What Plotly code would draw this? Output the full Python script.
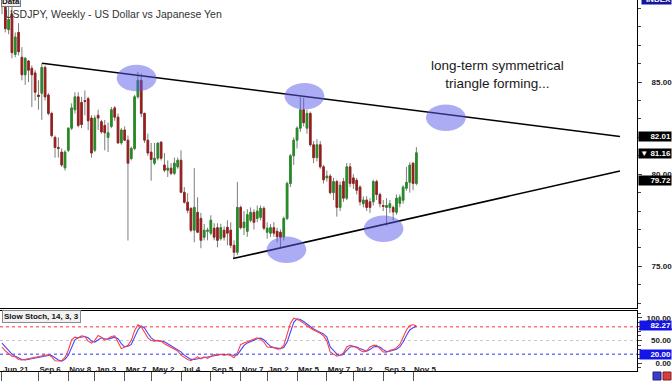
import plotly.graph_objects as go
import pandas as pd

# ---------------- data (weekly USDJPY) ----------------
start_week = "2010-06-21"
open_ = [90.2, 89.8, 87.85, 88.7, 86.5, 87.7, 86.35, 85.4, 86.15, 85.75,
         85.5, 84.3, 84.4, 85.8, 84.3, 83.3, 82.0, 81.45, 81.2, 80.35,
         81.3, 82.5, 83.5, 84.2, 83.9, 84.0, 84.1, 83.05, 81.3, 83.2,
         82.85, 82.65, 82.0, 82.6, 83.6, 83.1, 81.7, 82.4, 81.85, 80.85,
         81.4, 84.2, 85.1, 83.3, 81.85, 81.2, 80.6, 80.87, 81.74, 80.5,
         80.22, 80.33, 80.05, 80.4, 80.76, 79.02, 78.48, 78.15, 76.96, 77.93,
         77.6, 76.58, 76.9, 76.8, 77.07, 77.1, 76.5, 76.96, 77.12, 76.96,
         76.14, 75.76, 78.2, 77.1, 76.9, 77.5, 77.93, 77.6, 77.66, 78.15,
         76.85, 76.8, 77.1, 76.9, 76.85, 76.6, 77.6, 79.5, 81.0, 81.85,
         82.5, 83.5, 82.5, 83.3, 81.6, 80.9, 81.6, 80.4, 79.8, 79.9,
         79.0, 79.6, 78.2, 79.6, 78.7, 80.4, 79.8, 79.67, 79.3, 78.4,
         78.6, 78.5, 78.5, 79.6, 78.9, 78.3, 78.2, 78.2, 78.2, 77.93,
         78.42, 78.59, 79.24, 79.56, 80.6, 79.5]
high = [90.6, 90.0, 89.3, 89.5, 87.7, 88.2, 86.9, 86.35, 86.2, 85.9,
        85.65, 85.1, 86.03, 85.9, 84.4, 83.4, 82.1, 82.0, 81.4, 81.3,
        82.55, 83.85, 84.45, 84.45, 84.2, 84.55, 84.2, 83.2, 83.2, 83.5,
        82.95, 82.95, 82.8, 83.65, 83.7, 83.3, 82.5, 82.6, 82.1, 81.5,
        84.3, 85.56, 85.47, 83.35, 82.2, 81.7, 81.7, 81.75, 81.8, 81.15,
        80.75, 80.6, 80.9, 80.9, 81.3, 79.3, 78.97, 78.2, 80.33, 78.75,
        77.9, 77.3, 77.1, 77.77, 77.34, 77.34, 77.3, 77.17, 77.5, 77.39,
        76.41, 79.58, 78.3, 78.0, 78.1, 78.2, 78.1, 78.3, 78.3, 78.26,
        77.39, 77.3, 77.4, 77.1, 77.0, 77.7, 79.6, 81.1, 82.0, 82.6,
        84.2, 84.15, 83.5, 83.4, 81.8, 81.9, 81.8, 80.5, 80.2, 80.0,
        79.8, 79.7, 79.6, 79.8, 80.6, 80.6, 80.0, 79.8, 79.4, 78.8,
        78.8, 78.7, 79.7, 79.7, 79.0, 78.6, 78.7, 78.6, 78.3, 78.9,
        78.9, 79.4, 80.4, 80.65, 80.65, 81.47]
low = [88.7, 87.7, 87.6, 86.3, 86.35, 86.45, 85.1, 84.85, 85.0, 83.65,
       84.0, 83.5, 82.95, 84.0, 83.2, 82.0, 80.9, 80.9, 80.4, 80.2,
       81.2, 82.4, 83.3, 82.55, 82.5, 83.2, 82.4, 80.9, 81.2, 82.4,
       82.2, 81.3, 81.2, 82.5, 82.9, 81.65, 81.6, 81.8, 76.4, 80.75,
       81.3, 84.1, 83.1, 81.7, 81.0, 79.65, 80.5, 80.75, 80.75, 80.1,
       79.85, 79.95, 79.95, 80.3, 78.97, 78.4, 77.88, 76.85, 76.3, 76.8,
       75.98, 76.41, 76.41, 76.69, 76.41, 76.03, 76.4, 76.4, 76.14, 75.98,
       75.43, 75.6, 77.0, 76.7, 76.6, 77.39, 77.0, 77.4, 77.5, 76.96,
       76.5, 76.6, 76.6, 76.3, 75.98, 76.4, 77.5, 79.3, 80.5, 81.4,
       82.3, 82.6, 82.2, 81.5, 80.6, 80.7, 80.3, 79.5, 79.6, 78.9,
       78.6, 77.7, 78.0, 78.5, 78.6, 79.3, 79.2, 78.9, 78.3, 78.2,
       78.0, 77.9, 78.3, 78.6, 78.2, 78.0, 77.2, 77.9, 77.5, 77.8,
       78.2, 78.4, 79.1, 79.0, 79.13, 79.4]
close = [89.6, 87.9, 88.4, 86.6, 87.45, 86.65, 85.4, 86.3, 85.65, 85.4,
         84.45, 84.22, 85.8, 84.2, 83.3, 82.1, 81.45, 81.4, 80.5, 81.2,
         82.5, 83.6, 84.2, 82.65, 82.7, 83.95, 82.9, 81.15, 83.05, 83.05,
         82.3, 82.25, 82.25, 83.5, 83.1, 81.7, 82.4, 81.85, 80.6, 81.4,
         84.2, 85.1, 83.3, 81.85, 81.15, 80.8, 80.87, 81.68, 80.87, 80.22,
         80.33, 80.05, 80.6, 80.76, 79.02, 78.48, 78.04, 76.96, 78.2, 76.85,
         76.41, 76.96, 76.96, 77.5, 76.58, 76.41, 77.1, 76.58, 76.8, 76.14,
         75.76, 78.2, 77.1, 77.4, 77.8, 77.93, 77.39, 78.0, 78.15, 77.07,
         77.07, 77.1, 76.8, 76.6, 76.58, 77.6, 79.5, 81.0, 81.85, 82.5,
         83.5, 82.8, 83.3, 81.6, 80.9, 81.6, 80.4, 79.7, 79.9, 79.0,
         79.6, 78.2, 79.4, 78.7, 80.4, 79.5, 79.5, 79.13, 78.5, 78.6,
         78.2, 78.2, 79.6, 78.9, 78.4, 78.25, 78.3, 78.4, 77.95, 78.7,
         78.75, 79.3, 79.56, 80.49, 79.5, 81.16]

stoch_main = [35.8, 27.2, 21.4, 15.7, 14.2, 8.5, 7.1, 8.5, 10.6, 12.8,
              12.8, 14.2, 15.7, 17.8, 19.3, 14.2, 5.6, 4.9, 5.6, 12.8,
              28.6, 51.6, 57.4, 55.9, 60.2, 58.8, 48.7, 44.4, 50.2, 61.0,
              57.4, 50.2, 53.8, 58.8, 60.2, 46.6, 32.2, 35.8, 39.4, 50.2,
              71.7, 84.7, 80.3, 68.1, 55.9, 50.2, 48.7, 50.2, 48.7, 43.0,
              38.7, 34.4, 30.0, 27.2, 17.8, 12.8, 8.5, 5.6, 10.6, 14.2,
              9.9, 14.2, 10.6, 15.7, 19.3, 17.8, 20.0, 17.1, 20.0, 17.1,
              12.1, 22.9, 41.5, 44.4, 47.3, 50.2, 53.8, 55.9, 53.0, 46.6,
              35.8, 34.4, 34.4, 30.8, 32.2, 39.4, 61.0, 87.5, 99.0, 96.9,
              93.3, 87.5, 81.8, 77.5, 73.2, 70.3, 66.0, 60.2, 48.7, 25.0,
              20.0, 15.7, 17.8, 22.9, 35.8, 39.4, 37.2, 34.4, 28.6, 25.0,
              27.2, 35.8, 39.4, 39.4, 32.2, 25.0, 24.3, 28.6, 30.0, 34.4,
              41.5, 55.9, 73.2, 83.2, 84.5, 82.27]
stoch_signal = [44.4, 35.8, 27.2, 20.0, 15.7, 12.1, 8.5, 7.1, 8.5, 10.6,
                12.1, 12.8, 14.2, 15.7, 17.1, 17.1, 12.8, 7.1, 4.9, 8.5,
                17.8, 35.8, 51.6, 55.9, 57.4, 58.8, 55.9, 48.7, 46.6, 51.6,
                55.9, 53.8, 53.0, 55.2, 57.4, 53.8, 43.0, 35.8, 37.2, 41.5,
                55.9, 73.2, 81.8, 77.5, 66.0, 55.9, 50.2, 49.4, 49.4, 47.3,
                43.0, 38.7, 33.6, 30.0, 25.0, 17.8, 12.8, 8.5, 8.5, 9.9,
                11.4, 12.8, 12.8, 14.2, 17.1, 18.5, 19.3, 19.3, 18.5, 19.3,
                17.8, 18.5, 28.6, 39.4, 44.4, 47.3, 51.6, 53.8, 55.2, 51.6,
                44.4, 37.2, 34.4, 33.6, 32.2, 34.4, 46.6, 68.1, 89.7, 97.6,
                96.2, 91.8, 86.1, 80.3, 75.3, 71.7, 68.1, 64.5, 57.4, 35.8,
                28.6, 20.0, 17.1, 20.0, 28.6, 35.8, 37.2, 35.8, 32.2, 28.6,
                26.5, 30.0, 35.8, 37.2, 35.8, 30.0, 25.7, 26.5, 28.6, 30.8,
                35.8, 46.6, 61.0, 73.2, 78.0, 81.5]

tick_dates = ["2010-06-21", "2010-09-06", "2010-11-08", "2011-01-03", "2011-03-07",
              "2011-05-02", "2011-07-04", "2011-09-05", "2011-11-07", "2012-01-02",
              "2012-03-05", "2012-05-07", "2012-07-02", "2012-09-03", "2012-11-05"]
tick_labels = ["Jun 21", "Sep 6", "Nov 8", "Jan 3", "Mar 7", "May 2", "Jul 4", "Sep 5",
               "Nov 7", "Jan 2", "Mar 5", "May 7", "Jul 2", "Sep 3", "Nov 5"]

price_ticks = [75, 80, 85]
price_tick_text = ["75.00", "80.00", "85.00"]
stoch_ticks = [0, 50, 100]
stoch_tick_text = ["\u2007\u20070.00", "\u200750.00", "100.00"]
stoch_levels = [80, 50, 20]

# trend lines (week index from start, price)
upper_weeks = [12.1, 186.4]
upper_prices = [86.03, 82.05]
lower_weeks = [69.7, 186.4]
lower_prices = [75.42, 80.18]

# highlighted touch points (week index, price)
touch_weeks = [40.6, 91.25, 133.9, 85.8, 115.1]
touch_prices = [85.22, 84.24, 83.07, 75.9, 77.04]

# right-edge value labels
price_marks = ["82.01", "81.16", "79.72"]
price_mark_values = [82.03, 81.12, 79.65]

# ---------------- figure ----------------
t0 = pd.Timestamp(start_week)
bars = list(range(len(open_)))
tick_pos = [(pd.Timestamp(d) - t0).days / 7 for d in tick_dates]
body_hi = [max(o, c) for o, c in zip(open_, close)]
body_lo = [min(o, c) for o, c in zip(open_, close)]

GREEN = "#1f8f1f"
RED = "#9e1a1a"
WICK = "#7d7d7d"
FONT = "Liberation Sans"

fig = go.Figure()
fig.add_trace(go.Candlestick(
    x=bars, open=open_, high=high, low=low, close=close,
    increasing=dict(line=dict(color=WICK, width=1), fillcolor=WICK),
    decreasing=dict(line=dict(color=WICK, width=1), fillcolor=WICK),
    whiskerwidth=0, xaxis="x", yaxis="y", showlegend=False, hoverinfo="skip"))
fig.add_trace(go.Candlestick(
    x=bars, open=open_, high=body_hi, low=body_lo, close=close,
    increasing=dict(line=dict(color=GREEN, width=0.7), fillcolor=GREEN),
    decreasing=dict(line=dict(color=RED, width=0.7), fillcolor=RED),
    whiskerwidth=0, xaxis="x", yaxis="y", showlegend=False, hoverinfo="skip"))

fig.add_trace(go.Scatter(x=upper_weeks, y=upper_prices, mode="lines",
                         line=dict(color="black", width=1.6), xaxis="x", yaxis="y",
                         showlegend=False, hoverinfo="skip"))
fig.add_trace(go.Scatter(x=lower_weeks, y=lower_prices, mode="lines",
                         line=dict(color="black", width=1.6), xaxis="x", yaxis="y",
                         showlegend=False, hoverinfo="skip"))

fig.add_trace(go.Scatter(x=bars, y=stoch_signal, mode="lines",
                         line=dict(color="#4646ff", width=1.1), xaxis="x2", yaxis="y2",
                         showlegend=False, hoverinfo="skip"))
fig.add_trace(go.Scatter(x=bars, y=stoch_main, mode="lines",
                         line=dict(color="#ff4040", width=1.1), xaxis="x2", yaxis="y2",
                         showlegend=False, hoverinfo="skip"))

shapes = []
RX, RY = 6.0, 0.72
for w, p in zip(touch_weeks, touch_prices):
    shapes.append(dict(type="circle", xref="x", yref="y", x0=w - RX, x1=w + RX,
                       y0=p - RY, y1=p + RY, fillcolor="rgba(90,90,235,0.5)",
                       line=dict(width=0), layer="above"))
level_colors = ["#ff3030", "#c8c8c8", "#3030ff"]
for lv, col in zip(stoch_levels, level_colors):
    shapes.append(dict(type="line", xref="x2 domain", yref="y2", x0=0, x1=1,
                       y0=lv, y1=lv, line=dict(color=col, width=1, dash="dot"),
                       layer="below"))

# small buttons bottom right
W, H = 637.0, 371.0
def px(xp): return xp / W
def py(yp): return (H - yp) / H
shapes.append(dict(type="rect", xref="paper", yref="paper", x0=px(653), x1=px(661),
                   y0=py(380), y1=py(372), fillcolor="#3c3cc8", line=dict(color="#202080", width=1)))
shapes.append(dict(type="rect", xref="paper", yref="paper", x0=px(663), x1=px(671),
                   y0=py(380), y1=py(372), fillcolor="#d04040", line=dict(color="#802020", width=1)))
# dark red strip under the 82.27 box
shapes.append(dict(type="rect", xref="paper", yref="paper", x0=px(639), x1=px(672),
                   y0=py(330), y1=py(328.5), fillcolor="#8b0000", line=dict(width=0)))

ann = []
ann.append(dict(text="USDJPY, Weekly - US Dollar vs Japanese Yen", xref="paper", yref="paper",
                x=px(3), y=py(14), xanchor="left", yanchor="middle", showarrow=False,
                font=dict(family=FONT, size=10.5, color="#333333")))
ann.append(dict(text="Data", xref="paper", yref="paper", x=px(0.5), y=py(7),
                xanchor="left", yanchor="bottom", showarrow=False, bgcolor="#eeeeee",
                bordercolor="#777777", borderwidth=1, borderpad=0,
                font=dict(family=FONT, size=8, color="#111111", weight="bold")))
ann.append(dict(text="long-term symmetrical<br>triangle forming...", xref="paper", yref="paper",
                x=px(497), y=py(74), xanchor="center", yanchor="middle", align="center",
                showarrow=False, font=dict(family=FONT, size=13.5, color="#1a1a1a")))
ann.append(dict(text="INDEX", xref="paper", yref="paper", x=px(641), y=py(5),
                xanchor="left", yanchor="bottom", showarrow=False, bgcolor="#16169a",
                width=29, align="right", borderpad=0,
                font=dict(family=FONT, size=8, color="white", weight="bold")))
for txt, val in zip(price_marks, price_mark_values):
    label = ("\u25BC " + txt) if txt == "81.16" else txt
    ann.append(dict(text=label, xref="paper", yref="y", x=px(638), y=val,
                    xanchor="left", yanchor="middle", showarrow=False, bgcolor="black",
                    width=32, align="right", borderpad=0,
                    font=dict(family=FONT, size=8, color="white", weight="bold")))
ann.append(dict(text="82.27", xref="paper", yref="y2", x=px(639), y=stoch_main[-1],
                xanchor="left", yanchor="middle", showarrow=False, bgcolor="#1414e6",
                width=31, align="right", borderpad=0,
                font=dict(family=FONT, size=8, color="white", weight="bold")))
ann.append(dict(text="20.00", xref="paper", yref="y2", x=px(639), y=20,
                xanchor="left", yanchor="middle", showarrow=False, bgcolor="#1414e6",
                width=31, align="right", borderpad=0,
                font=dict(family=FONT, size=8, color="white", weight="bold")))
ann.append(dict(text="Slow Stoch, 14, 3, 3", xref="paper", yref="paper", x=px(1.5), y=py(316),
                xanchor="left", yanchor="middle", showarrow=False, bgcolor="#f2f2f2",
                bordercolor="#8a8a8a", borderwidth=1, borderpad=1,
                font=dict(family=FONT, size=8, color="#111111", weight="bold")))

axis_font = dict(family=FONT, size=8, color="#222222", weight="bold")
fig.update_layout(
    width=672, height=381,
    margin=dict(l=0, r=35, t=0, b=10, autoexpand=False),
    paper_bgcolor="white", plot_bgcolor="white",
    showlegend=False,
    xaxis=dict(domain=[0, 1], range=[-0.6, 191.55], anchor="y", showticklabels=False,
               showgrid=False, zeroline=False, showline=True, linecolor="black",
               linewidth=1, mirror=True, ticks="", rangeslider=dict(visible=False),
               automargin=False),
    yaxis=dict(domain=[(H - 308.3) / H, 1], range=[72.72, 89.46], side="right",
               anchor="x", showgrid=False, zeroline=False, showline=True,
               linecolor="black", linewidth=1, mirror=True, automargin=False,
               tickmode="array", tickvals=price_ticks, ticktext=price_tick_text,
               ticks="outside", ticklen=4, tickcolor="#444", tickfont=axis_font,
               ticklabelstandoff=8,
               minor=dict(tickmode="linear", tick0=0, dtick=1, ticks="outside",
                          ticklen=3, tickcolor="#444")),
    xaxis2=dict(domain=[0, 1], range=[-0.6, 191.55], anchor="y2", matches="x",
                showgrid=False, zeroline=False, showline=True, linecolor="black",
                linewidth=1, mirror=True, tickmode="array", tickvals=tick_pos,
                ticktext=tick_labels, ticks="outside", ticklen=10, tickcolor="#555",
                tickangle=0, automargin=False, ticklabelstandoff=-10,
                ticklabelposition="outside right", tickfont=axis_font,
                rangeslider=dict(visible=False)),
    yaxis2=dict(domain=[0, (H - 310.7) / H], range=[-16.9, 115.4], side="right",
                anchor="x2", showgrid=False, zeroline=False, showline=True,
                linecolor="black", linewidth=1, mirror=True, automargin=False,
                tickmode="array", tickvals=stoch_ticks, ticktext=stoch_tick_text,
                ticks="outside", ticklen=4, tickcolor="#444", tickfont=axis_font,
                ticklabelstandoff=3,
                minor=dict(tickmode="linear", tick0=0, dtick=10, ticks="outside",
                           ticklen=3, tickcolor="#444")),
    shapes=shapes,
    annotations=ann,
)

fig.write_html("out.html")
